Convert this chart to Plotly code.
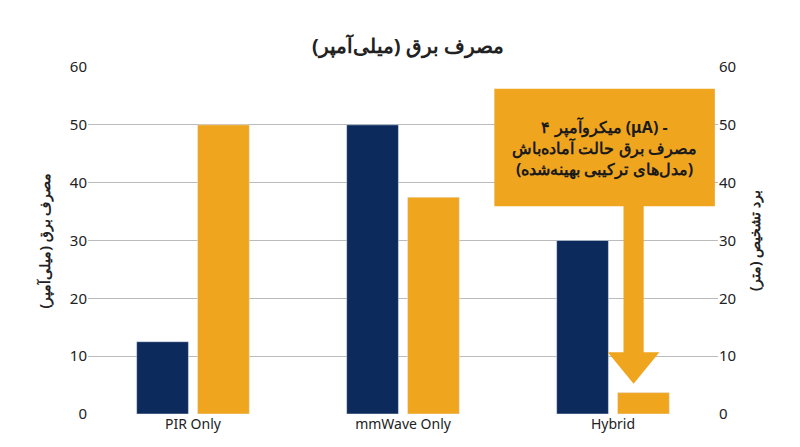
import plotly.graph_objects as go

categories = ["PIR Only", "mmWave Only", "Hybrid"]
power_ma = [12.5, 50, 30]
range_m = [50, 37.5, 3.7]

navy = "#0d2a5c"
orange = "#f0a51f"

fig = go.Figure()
fig.add_trace(go.Bar(x=categories, y=power_ma, marker_color=navy, offsetgroup=1, yaxis="y"))
fig.add_trace(go.Bar(x=categories, y=range_m, marker_color=orange, offsetgroup=2, yaxis="y2"))

# callout box with arrow
fig.add_shape(type="path", xref="paper", yref="paper",
              path="M 0.85 0.6 L 0.882 0.6 L 0.882 0.178 L 0.907 0.178 L 0.866 0.087 "
                   "L 0.825 0.178 L 0.85 0.178 Z",
              fillcolor=orange, line_width=0)
fig.add_shape(type="rect", xref="paper", yref="paper", x0=0.645, x1=0.995, y0=0.599, y1=0.937,
              fillcolor=orange, line_width=0)
fig.add_annotation(xref="paper", yref="paper", x=0.82, y=0.768, xanchor="center", yanchor="middle",
                   width=215, showarrow=False,
                   text="<b>۴ میکروآمپر (μA) -</b><br><b>مصرف برق حالت آماده‌باش</b><br><b>(مدل‌های ترکیبی بهینه‌شده)</b>",
                   font=dict(size=16, color="#1a1a1a"), align="center")

fig.update_layout(
    width=800, height=447,
    margin=dict(l=80, r=90, t=59, b=41),
    plot_bgcolor="white", paper_bgcolor="white",
    font=dict(family="Noto Sans", color="#222"),
    title=dict(text="<b>مصرف برق (میلی‌آمپر)</b>", x=0.5, y=0.93, xanchor="center",
               font=dict(size=20, color="#222")),
    showlegend=False,
    bargap=0.42, bargroupgap=0.15,
    xaxis=dict(showline=False, tickfont=dict(size=14, color="#222")),
    yaxis=dict(range=[0, 60], dtick=10, gridcolor="#bbbbbb", tickfont=dict(size=15, color="#222"),
               title=dict(text="<b>مصرف برق (میلی‌آمپر)</b>", font=dict(size=14)), zeroline=True,
               zerolinecolor="#bbbbbb"),
    yaxis2=dict(range=[0, 60], dtick=10, overlaying="y", side="right", showgrid=False,
                tickfont=dict(size=15, color="#222"),
                title=dict(text="<b>برد تشخیص (متر)</b>", font=dict(size=14))),
)

fig.write_html("out.html")
